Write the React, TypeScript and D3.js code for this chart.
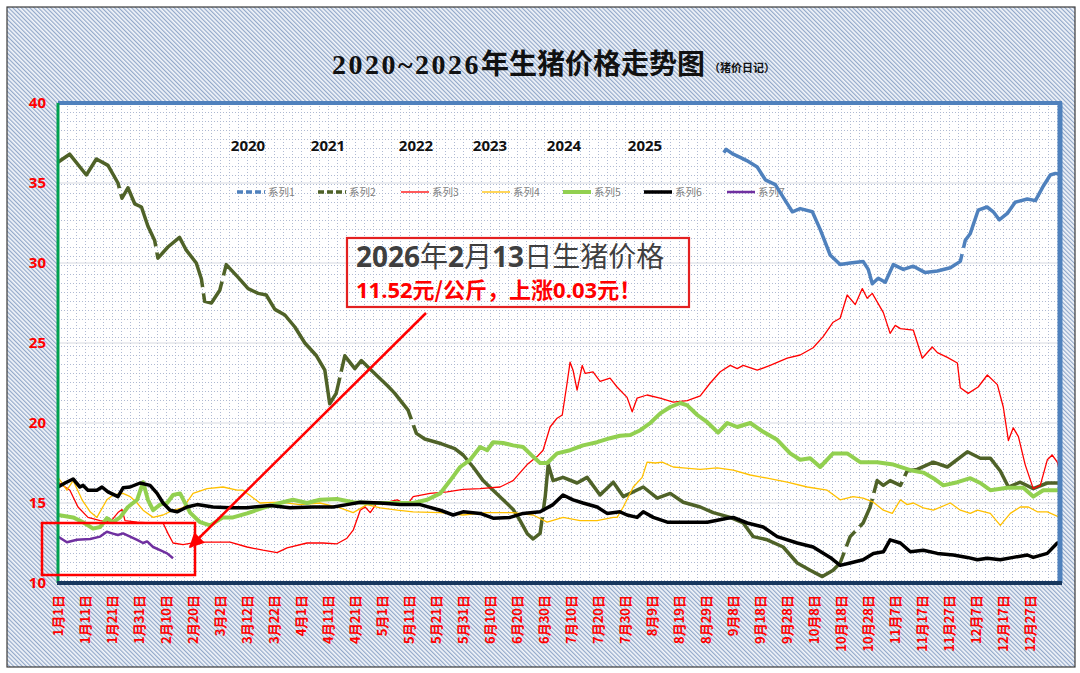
import React from 'react';
import * as d3 from 'd3';

type Pt = [number, number];

// ---- data (category index = day of year, value = price 元/公斤) ----
const SERIES_NAMES = ['系列1', '系列2', '系列3', '系列4', '系列5', '系列6', '系列7'];
const YEAR_LABELS = ['2020', '2021', '2022', '2023', '2024', '2025'];
const Y_TICKS = [10, 15, 20, 25, 30, 35, 40];
const X_LABELS = [
  '1月1日', '1月11日', '1月21日', '1月31日', '2月10日', '2月20日', '3月2日', '3月12日', '3月22日',
  '4月1日', '4月11日', '4月21日', '5月1日', '5月11日', '5月21日', '5月31日', '6月10日', '6月20日',
  '6月30日', '7月10日', '7月20日', '7月30日', '8月9日', '8月19日', '8月29日', '9月8日', '9月18日',
  '9月28日', '10月8日', '10月18日', '10月28日', '11月7日', '11月17日', '11月27日', '12月7日',
  '12月17日', '12月27日',
];

const S2020: Pt[] = [
  [246.5, 36.9], [247.4, 37.1], [250, 36.8], [252.6, 36.6], [255, 36.4], [258.9, 36.0], [261.9, 35.2],
  [265.6, 34.9], [269.3, 33.9], [271.9, 33.2], [274.8, 33.4], [279.3, 33.2], [282.2, 32.1], [285.9, 30.5],
  [289.6, 29.9], [293.3, 30.0], [298.1, 30.1], [300, 29.6], [301.5, 28.7], [303.7, 29.05], [306.3, 28.8],
  [309.3, 29.9], [313, 29.6], [316.7, 29.8], [321.1, 29.4], [325.6, 29.5], [330.4, 29.7], [334.1, 30.1],
  [335.9, 31.4], [337.8, 31.85], [340.7, 33.3], [344, 33.5], [346.3, 33.2], [348.5, 32.7],
  [351.5, 33.1], [354.4, 33.8], [358.9, 34.0], [361.9, 33.9], [364.8, 34.8], [367.4, 35.5], [369.3, 35.6],
  [371, 35.55],
];

const S2021: Pt[] = [
  [0, 36.3], [4.3, 36.8], [10.5, 35.5], [14.2, 36.5], [18.5, 36.1], [22.2, 35.0], [23.7, 34.05],
  [25.9, 34.7], [28.4, 33.7], [30.9, 33.5], [33.3, 32.3], [35.8, 31.4], [37, 30.3], [40.7, 31.0],
  [45, 31.6], [47.5, 30.8], [51.2, 30.0], [53.1, 29.0], [54.3, 27.6], [56.8, 27.5], [59.9, 28.3],
  [62.3, 29.9], [66.7, 29.1], [70.4, 28.4], [74.1, 28.1], [77.1, 28.0], [80.3, 27.1], [84, 26.75],
  [87.7, 26.0], [91.4, 25.0], [95.7, 24.2], [98.8, 23.3], [100.6, 21.2], [103, 21.85],
  [106.2, 24.2], [109.9, 23.4], [112.3, 23.9], [116, 23.3], [122.2, 22.3],
  [124.7, 21.85], [129.6, 20.8], [132.7, 19.35], [135.8, 19.0], [142, 18.7], [146.9, 18.4], [150, 18.0],
  [153.7, 17.25], [157.4, 16.4], [161.1, 15.8], [164.8, 15.2], [168.5, 14.6], [171.1, 13.9], [173.7, 13.1],
  [175.9, 12.75], [178.5, 13.1], [180.4, 15.4], [181.5, 17.4], [183.3, 16.4],
  [187, 16.6], [192.2, 16.25], [195.9, 16.6], [200.7, 15.5], [205.6, 16.3], [209.3, 15.4], [216.7, 16.0],
  [221.9, 15.3], [226.7, 15.6], [231.5, 15.05], [237.8, 14.75], [242.6, 14.4], [248.9, 14.1], [253.7, 13.75],
  [257.4, 12.9], [262.6, 12.7], [268.5, 12.25], [273.7, 11.25], [278.5, 10.8], [283, 10.4], [287, 10.8],
  [289.6, 11.25], [293.3, 12.9], [298.1, 13.75], [300.7, 14.75], [303.3, 16.4],
  [305.6, 16.1], [308.1, 16.4], [311.9, 16.1], [314.4, 17.0], [318.1, 17.1], [324.1, 17.55],
  [329.3, 17.25], [336.7, 18.2], [341.5, 17.8], [345.2, 17.8], [348.9, 17.0], [351.9, 16.0], [356.3, 16.3],
  [361.1, 15.9], [366.3, 16.25], [371, 16.25],
];

const S2022: Pt[] = [
  [0, 16.3], [4.4, 15.8], [7.4, 14.75], [11.1, 14.1], [15.6, 13.9], [19.3, 13.8], [22.2, 14.4], [23.7, 14.6],
  [24.8, 13.9], [29.3, 13.8], [34.1, 13.75], [38.9, 13.75], [40.7, 13.1], [42.6, 12.5], [46.3, 12.4],
  [51.5, 12.55], [63.7, 12.55], [70, 12.25], [75.9, 12.05], [81.1, 11.9], [84.8, 12.2], [92.2, 12.5],
  [98.1, 12.5], [103.3, 12.45], [107, 12.8], [109.3, 13.3], [111.9, 14.55], [113.7, 14.75], [115.6, 14.4],
  [118.1, 15.0], [121.9, 15.05], [125.6, 15.2], [129.3, 14.9], [131.5, 15.4], [137.8, 15.6], [144.1, 15.7],
  [150, 15.85], [156.3, 15.9], [163.7, 16.0], [168.5, 16.4], [173.7, 17.4], [177.4, 17.9], [179.6, 18.3],
  [182.2, 19.75], [184.8, 20.3], [186.7, 20.5], [188.5, 22.5], [189.6, 23.8], [190.7, 23.3], [192.2, 22.05],
  [194.1, 23.6], [195.2, 23.1], [198.1, 23.2], [200.7, 22.6], [204.4, 22.8], [207, 22.25], [210.7, 21.6],
  [212.6, 20.7], [214.4, 21.55], [218.1, 21.75], [222.9, 21.55], [227.8, 21.3], [233, 21.4], [237.8, 21.7],
  [241.5, 22.5], [245.2, 23.2], [248.9, 23.6], [251.5, 23.4], [253.7, 23.6], [258.9, 23.3], [263.7, 23.6],
  [270, 24.05], [274.8, 24.25], [279.6, 24.7], [283.3, 25.4], [287, 26.3], [289.6, 26.55], [292.2, 28.0],
  [295.2, 27.4], [297.8, 28.4], [299.6, 27.8], [301.5, 28.1], [305.6, 26.9], [308.1, 25.6], [310, 26.1],
  [311.9, 25.9], [316.7, 25.8], [320, 24.05], [323.7, 24.75], [325.6, 24.4], [329.3, 24.1], [333, 23.75],
  [334.1, 22.2], [337, 21.85], [340.7, 22.25], [344.1, 23.0], [347.8, 22.4], [350, 21.0], [351.9, 18.9],
  [353.7, 19.7], [355.6, 19.15], [358.1, 17.4], [361.1, 15.9], [363.7, 16.1], [366.3, 17.7], [368.1, 18.0],
  [370, 17.55], [371, 16.9],
];

const S2023: Pt[] = [
  [0, 16.6], [3.3, 15.8], [5.6, 16.4], [8.9, 15.2], [11.9, 14.45], [14.4, 14.1], [18.1, 15.2], [20.4, 15.5],
  [24.1, 15.6], [26.7, 15.4], [29.3, 15.0], [31.5, 14.55], [35.2, 14.1], [38.9, 14.25], [42.6, 14.55],
  [46.3, 14.7], [50, 15.6], [55.2, 15.9], [61.1, 16.0], [66.3, 15.8], [68.5, 15.8], [74.8, 15.0], [82.2, 15.05],
  [89.6, 14.9], [97, 15.0], [104.4, 14.7], [109.3, 14.4], [114.4, 14.9], [119.3, 14.7], [125.6, 14.55],
  [131.5, 14.45], [141.5, 14.4], [150, 14.25], [158.9, 14.4], [168.5, 14.4], [175.9, 14.25], [181.1, 13.8],
  [187, 14.1], [193.3, 13.9], [199.6, 13.9], [205.6, 14.1], [207, 14.1], [209.3, 14.75], [213, 16.0],
  [216.3, 16.6], [218.1, 17.55], [221.1, 17.5], [223.7, 17.55], [227.8, 17.25], [231.5, 17.2], [237.8, 17.1],
  [244.1, 17.2], [250, 17.05], [256.3, 16.75], [262.6, 16.55], [270, 16.3], [277.4, 16.0], [284.8, 15.8],
  [289.6, 15.2], [294.4, 15.4], [298.1, 15.3], [301.9, 15.05], [305.6, 14.55], [308.9, 14.35], [311.9, 15.2],
  [314.4, 14.9], [316.7, 15.0], [320.4, 14.7], [324.1, 14.55], [330.4, 15.0], [334.1, 14.55], [337.8, 14.35],
  [340.4, 14.55], [345.2, 14.35], [348.9, 13.6], [352.6, 14.35], [356.3, 14.75], [359.3, 14.75],
  [362.6, 14.45], [366.3, 14.45], [371, 14.1],
];

const S2024: Pt[] = [
  [0, 14.25], [5.6, 14.1], [9.3, 13.8], [13, 13.4], [15.6, 13.5], [18.1, 14.05], [20.4, 13.8], [23, 14.1],
  [25.9, 14.75], [29.3, 15.2], [31.5, 16.3], [33.3, 15.2], [35.2, 14.55], [37.8, 14.9], [40.4, 15.0],
  [42.6, 15.5], [45.2, 15.6], [48.9, 14.4], [52.6, 13.8], [56.3, 13.6], [61.1, 14.1], [64.8, 14.1], [70, 14.35],
  [75.9, 14.7], [82.2, 15.0], [87, 15.2], [92.2, 15.0], [97, 15.2], [103.3, 15.25], [109.3, 15.05],
  [116.7, 15.0], [124.1, 15.0], [131.5, 15.0], [136.7, 15.2], [141.5, 15.6], [145.2, 16.4], [148.9, 17.25],
  [152.6, 17.7], [156.3, 18.5], [158.9, 18.3], [161.1, 18.8], [164.8, 18.75], [168.5, 18.6], [172.2, 18.5],
  [175.9, 17.9], [178.5, 17.5], [181.1, 17.5], [184.8, 18.1], [189.6, 18.3], [194.4, 18.6], [199.6, 18.8],
  [204.4, 19.05], [208.1, 19.2], [211.9, 19.25], [215.6, 19.55], [219.3, 20.0], [223, 20.6], [226.7, 21.0],
  [230.4, 21.25], [233, 21.1], [236.7, 20.5], [240.4, 20.05], [244.4, 19.4], [247.8, 20.0], [251.5, 19.75],
  [256.3, 20.0], [261.1, 19.45], [266.3, 18.95], [271.1, 18.1], [274.8, 17.7], [278.5, 17.8], [282.2, 17.25],
  [287, 18.1], [292.2, 18.1], [297, 17.55], [303.3, 17.55], [309.3, 17.4], [315.6, 17.05], [320.4, 16.9],
  [324.1, 16.55], [327.8, 16.1], [333, 16.3], [337.8, 16.55], [341.5, 16.25], [345.2, 15.8], [351.5, 15.95],
  [357.4, 15.95], [361.1, 15.4], [364.8, 15.8], [371, 15.8],
];

const S2025: Pt[] = [
  [0, 16.0], [2.6, 16.25], [5.6, 16.5], [8.1, 16.0], [9.3, 16.1], [11.1, 15.8], [14.4, 15.8], [16.3, 16.0],
  [18.5, 15.7], [22.2, 15.4], [24.1, 15.95], [26.7, 16.0], [30.4, 16.25], [34.1, 16.1], [36.7, 15.6],
  [38.9, 15.0], [41.5, 14.55], [44.1, 14.45], [47.8, 14.75], [51.5, 14.9], [57.4, 14.75], [63.7, 14.7],
  [70, 14.7], [78.5, 14.85], [85.9, 14.7], [94.4, 14.75], [101.9, 14.75], [107, 14.9], [111.9, 15.05],
  [119.3, 15.0], [126.7, 14.9], [134.1, 14.9], [141.5, 14.55], [146.3, 14.25], [150, 14.45], [156.3, 14.35],
  [161.1, 14.05], [167.4, 14.1], [172.2, 14.35], [178.5, 14.45], [183.3, 14.9], [187, 15.5], [190.7, 15.2],
  [194.4, 15.0], [199.6, 14.75], [203.3, 14.35], [208.1, 14.45], [210.7, 14.25], [214.4, 14.1], [216.7, 14.45],
  [220.4, 14.1], [225.6, 13.8], [233, 13.8], [240.4, 13.8], [247.8, 14.05], [250, 14.1], [255.2, 13.75],
  [261.1, 13.5], [266.3, 12.9], [273.7, 12.5], [279.6, 12.25], [285.9, 11.6], [289.6, 11.1], [293.3, 11.25],
  [298.1, 11.45], [301.9, 11.85], [305.6, 11.95], [308.1, 12.7], [311.9, 12.5], [315.6, 11.95], [320.4, 12.05],
  [325.6, 11.85], [331.5, 11.75], [336.7, 11.6], [340.4, 11.45], [344.1, 11.55], [348.9, 11.45],
  [353.7, 11.6], [358.9, 11.75], [361.1, 11.6], [366.3, 11.85], [370, 12.5], [371, 12.5],
];

const S2026: Pt[] = [
  [0, 12.9], [3.3, 12.55], [7, 12.7], [11.9, 12.75], [15.6, 12.9], [18.1, 13.2], [20, 13.1], [22.2, 13.0],
  [24.1, 13.1], [26.7, 12.9], [29.3, 12.7], [31.5, 12.5], [33, 12.6], [35.2, 12.25], [37.8, 12.05],
  [40.4, 11.85], [42.6, 11.55],
];

// days where the dashed series show a break in the dash pattern
const GAPS2020 = [335];
const GAPS2021 = [23, 36.4, 53.7, 61, 104.6, 131.2, 179.5, 291.5, 296, 301.8, 313];

const SERIES_DATA: Pt[][] = [S2020, S2021, S2022, S2023, S2024, S2025, S2026];
const SERIES_GAPS: number[][] = [GAPS2020, GAPS2021, [], [], [], [], []];

// ---- styles ----
const STYLES = [
  { color: '#4f81bd', width: 3.5, dash: true },
  { color: '#4f6228', width: 3.5, dash: true },
  { color: '#ff0000', width: 1.3, dash: false },
  { color: '#ffc000', width: 1.3, dash: false },
  { color: '#92d050', width: 4, dash: false },
  { color: '#000000', width: 3.5, dash: false },
  { color: '#7030a0', width: 2.5, dash: false },
];
const YEAR_X = [248, 328, 416, 490, 564, 645];
const LEGEND_X = [237, 318, 401, 482, 563, 644, 727];

const L = 58, R = 1060, T = 103, B = 583;

// position along the drawn polyline (for placing dash breaks)
function valueOn(data: Pt[], day: number): number {
  const i = d3.bisector((d: Pt) => d[0]).right(data, day);
  const a = data[Math.max(0, i - 1)];
  const b = data[Math.min(data.length - 1, i)];
  if (a[0] === b[0]) return a[1];
  const t = (day - a[0]) / (b[0] - a[0]);
  return a[1] + (b[1] - a[1]) * t;
}

export default function App() {
  const x = d3.scaleLinear().domain([0, 371]).range([L, R]);
  const y = d3.scaleLinear().domain([10, 40]).range([B, T]);
  const line = d3
    .line<Pt>()
    .x((d) => x(d[0]))
    .y((d) => y(d[1]));

  const sans = '"Open Sans", "Noto Sans CJK SC", sans-serif';
  const cjk = '"Noto Sans CJK SC", "Open Sans", sans-serif';

  return (
    <svg
      width={1080}
      height={673}
      style={{ position: 'absolute', left: 0, top: 0, background: '#fff' }}
    >
      <defs>
        <pattern id="hatch" width="3" height="3" patternUnits="userSpaceOnUse" patternTransform="rotate(-45)">
          <rect width="3" height="3" fill="#f2f5fa" />
          <rect width="1.2" height="3" fill="#92a8c9" />
        </pattern>
        <pattern id="dots" width="9" height="9" patternUnits="userSpaceOnUse" x={L} y={T}>
          <rect width="9" height="9" fill="#ffffff" />
          <rect x="0" y="0" width="1" height="1" fill="#aeb9d2" />
          <rect x="0" y="3" width="1" height="1" fill="#aeb9d2" />
          <rect x="0" y="6" width="1" height="1" fill="#aeb9d2" />
          <rect x="3" y="0" width="1" height="1" fill="#aeb9d2" />
          <rect x="6" y="0" width="1" height="1" fill="#aeb9d2" />
        </pattern>
        <clipPath id="plotclip">
          <rect x={L} y={T - 2} width={R - L} height={B - T + 2} />
        </clipPath>
        <marker id="arrow" viewBox="0 0 10 10" refX="9" refY="5" markerWidth="6" markerHeight="6" orient="auto">
          <path d="M0,0 L10,5 L0,10 z" fill="#ff0000" />
        </marker>
        {SERIES_GAPS.map((gaps, i) =>
          gaps.length ? (
            <mask key={i} id={`gapmask${i}`} maskUnits="userSpaceOnUse" x={0} y={0} width={1080} height={673}>
              <rect x={0} y={0} width={1080} height={673} fill="#fff" />
              {gaps.map((g) => (
                <circle key={g} cx={x(g)} cy={y(valueOn(SERIES_DATA[i], g))} r={3.2} fill="#000" />
              ))}
            </mask>
          ) : null
        )}
      </defs>

      <rect x={0} y={0} width={1080} height={673} fill="#ffffff" />

      {/* chart area */}
      <rect x={7} y={7} width={1068} height={660} fill="url(#hatch)" stroke="#3a3a3a" strokeWidth={1.2} />

      {/* title */}
      <text x={332} y={74} fontWeight="bold" fill="#111">
        <tspan fontFamily='"Liberation Serif", "DejaVu Serif", serif' fontSize={28} letterSpacing={2.5}>
          2020~2026
        </tspan>
        <tspan fontFamily={cjk} fontSize={28}>
          年生猪价格走势图
        </tspan>
        <tspan fontFamily={cjk} fontSize={11} dx={4} dy={-2}>
          （猪价日记）
        </tspan>
      </text>

      {/* plot area */}
      <rect x={L} y={T} width={R - L} height={B - T} fill="url(#dots)" />
      {Y_TICKS.filter((t) => t > 10 && t < 40).map((t) => (
        <line key={t} x1={L} x2={R} y1={y(t)} y2={y(t)} stroke="#d6d9e0" strokeWidth={1} />
      ))}

      {/* year labels */}
      {YEAR_LABELS.map((yr, i) => (
        <text key={yr} x={YEAR_X[i]} y={151} textAnchor="middle" fontFamily={sans} fontWeight="bold" fontSize={15} fill="#111">
          {yr}
        </text>
      ))}

      {/* legend */}
      {SERIES_NAMES.map((nm, i) => (
        <g key={nm}>
          <line
            x1={LEGEND_X[i]}
            x2={LEGEND_X[i] + 28}
            y1={192}
            y2={192}
            stroke={STYLES[i].color}
            strokeWidth={STYLES[i].width}
            strokeDasharray={STYLES[i].dash ? '6 3' : undefined}
          />
          <text x={LEGEND_X[i] + 31} y={192} dy="0.35em" fontFamily={cjk} fontSize={10.5} fill="#7f7f7f">
            {nm}
          </text>
        </g>
      ))}

      {/* series */}
      <g clipPath="url(#plotclip)">
        {SERIES_DATA.map((data, i) => (
          <path
            key={i}
            d={line(data) || ''}
            fill="none"
            stroke={STYLES[i].color}
            strokeWidth={STYLES[i].width}
            strokeLinejoin="round"
            strokeLinecap="butt"
            mask={SERIES_GAPS[i].length ? `url(#gapmask${i})` : undefined}
          />
        ))}
      </g>

      {/* plot frame */}
      <line x1={L} x2={R + 2} y1={T} y2={T} stroke="#4f81bd" strokeWidth={4} />
      <line x1={R} x2={R} y1={T} y2={B} stroke="#4f81bd" strokeWidth={5} />
      <line x1={L} x2={L} y1={T} y2={B} stroke="#00a050" strokeWidth={3} />
      <line x1={L - 1} x2={R + 2} y1={B} y2={B} stroke="#17375e" strokeWidth={4} />

      {/* y tick labels */}
      {Y_TICKS.map((t) => (
        <text key={t} x={46} y={y(t)} dy="0.35em" textAnchor="end" fontFamily={sans} fontWeight="bold" fontSize={15} fill="#ff0000">
          {t}
        </text>
      ))}

      {/* x tick labels */}
      {X_LABELS.map((lb, i) => {
        const px = x(i * 10);
        return (
          <text
            key={lb}
            transform={`translate(${px},595) rotate(-90)`}
            dy="0.35em"
            textAnchor="end"
            fontFamily={cjk}
            fontWeight="bold"
            fontSize={13}
            fill="#ff0000"
          >
            {lb}
          </text>
        );
      })}

      {/* highlight box around 2026 */}
      <rect x={42} y={523} width={153} height={52} fill="none" stroke="#ff0000" strokeWidth={2.5} />

      {/* annotation */}
      <rect x={347} y={238} width={342} height={69} fill="none" stroke="#e32020" strokeWidth={2.2} />
      <text x={356} y={267} fontSize={28} fill="#3f3f3f" fontFamily={cjk}>
        <tspan fontFamily={sans} fontWeight="bold">2026</tspan>
        <tspan>年</tspan>
        <tspan fontFamily={sans} fontWeight="bold">2</tspan>
        <tspan>月</tspan>
        <tspan fontFamily={sans} fontWeight="bold">13</tspan>
        <tspan>日生猪价格</tspan>
      </text>
      <text x={356} y={298} fontSize={22} fill="#ff0000" fontWeight="bold" fontFamily={cjk}>
        <tspan fontFamily={sans}>11.52</tspan>
        <tspan>元/公斤，上涨</tspan>
        <tspan fontFamily={sans}>0.03</tspan>
        <tspan>元！</tspan>
      </text>
      <line x1={426} y1={313} x2={190} y2={547} stroke="#ff0000" strokeWidth={2.5} markerEnd="url(#arrow)" />
    </svg>
  );
}
